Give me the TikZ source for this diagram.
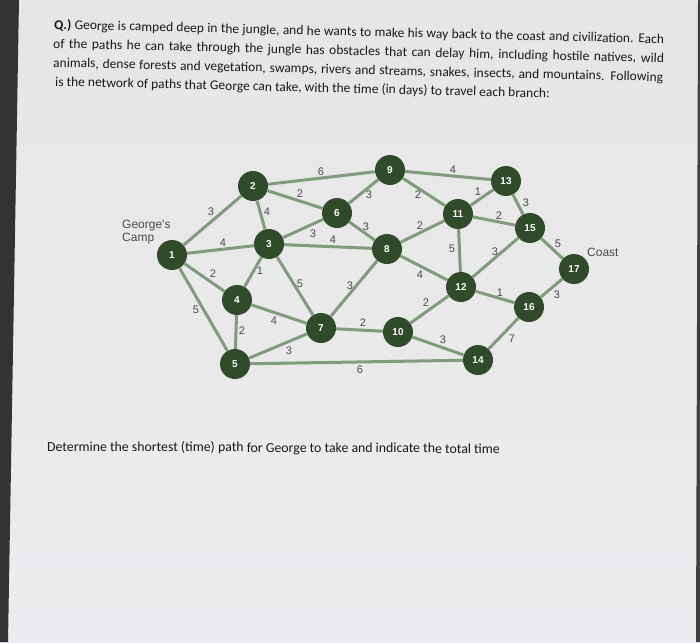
\documentclass[tikz,border=0pt]{standalone}
\usepackage{fontspec}
\setmainfont{Carlito}
\newfontfamily\graphfont{Liberation Sans}
\definecolor{paper}{HTML}{E5E7E4}
\definecolor{paperlow}{HTML}{EDEBEF}
\definecolor{junglegreen}{HTML}{2F4B29}
\definecolor{pathgreen}{HTML}{809C7C}
\definecolor{weightgray}{HTML}{4A4A4A}
\definecolor{ink}{HTML}{1A1A1A}
\tikzset{
	spot/.style={circle,fill=junglegreen,minimum size=30pt,inner sep=0pt,text=white,font=\graphfont\fontsize{10}{10}\selectfont\bfseries},
	path line/.style={draw=pathgreen,line width=3pt},
	weight/.style={text=weightgray,inner sep=0pt,font=\graphfont\fontsize{11}{11}\selectfont},
	place/.style={text=weightgray,inner sep=0pt,align=left,font=\graphfont\fontsize{12}{13}\selectfont},
	textline/.style={anchor=base west,inner sep=0pt,text=ink,font=\fontsize{13.5}{16}\selectfont}
}
\begin{document}
\begin{tikzpicture}[x=1pt,y=-1pt]
	\useasboundingbox (0,0) rectangle (700,642);
	\shade[top color=paper,bottom color=paperlow] (0,0) rectangle (700,642);
	\fill[black!80] (0,0) -- (19,0) -- (8,642) -- (0,642) -- cycle;
	\fill[black!75] (698,0) -- (700,0) -- (700,642) -- (696,642) -- cycle;

	% question text
	\node[textline,rotate=-1.37] (q1) at (54,29) {\makebox[610pt][s]{\textbf{Q.)} George is camped deep in the jungle, and he wants to make his way back to the coast and civilization. Each}};
	\node[textline,rotate=-1.37] (q2) at (53,48) {\makebox[611pt][s]{of the paths he can take through the jungle has obstacles that can delay him, including hostile natives, wild}};
	\node[textline,rotate=-1.37] (q3) at (53,67) {\makebox[610pt][s]{animals, dense forests and vegetation, swamps, rivers and streams, snakes, insects, and mountains. Following}};
	\node[textline,rotate=-1.37] (q4) at (55,86) {is the network of paths that George can take, with the time (in days) to travel each branch:};

	% the network
	\node[spot] (n1) at (172,255) {1};
	\node[spot] (n2) at (253,186) {2};
	\node[spot] (n3) at (269,244) {3};
	\node[spot] (n4) at (237,300) {4};
	\node[spot] (n5) at (235,364) {5};
	\node[spot] (n6) at (337,213) {6};
	\node[spot] (n7) at (321,328) {7};
	\node[spot] (n8) at (387,249) {8};
	\node[spot] (n9) at (390,170) {9};
	\node[spot] (n10) at (398,332) {10};
	\node[spot] (n11) at (458,214) {11};
	\node[spot] (n12) at (461,287) {12};
	\node[spot] (n13) at (506,181) {13};
	\node[spot] (n14) at (478,360) {14};
	\node[spot] (n15) at (530,228) {15};
	\node[spot] (n16) at (529,307) {16};
	\node[spot] (n17) at (574,269) {17};

	\draw[path line] (n1) -- (n2);
	\draw[path line] (n1) -- (n3);
	\draw[path line] (n1) -- (n4);
	\draw[path line] (n1) -- (n5);
	\draw[path line] (n2) -- (n3);
	\draw[path line] (n2) -- (n6);
	\draw[path line] (n2) -- (n9);
	\draw[path line] (n3) -- (n6);
	\draw[path line] (n3) -- (n8);
	\draw[path line] (n3) -- (n4);
	\draw[path line] (n3) -- (n7);
	\draw[path line] (n4) -- (n5);
	\draw[path line] (n4) -- (n7);
	\draw[path line] (n5) -- (n7);
	\draw[path line] (n5) -- (n14);
	\draw[path line] (n6) -- (n9);
	\draw[path line] (n6) -- (n8);
	\draw[path line] (n7) -- (n8);
	\draw[path line] (n7) -- (n10);
	\draw[path line] (n8) -- (n11);
	\draw[path line] (n8) -- (n12);
	\draw[path line] (n9) -- (n11);
	\draw[path line] (n9) -- (n13);
	\draw[path line] (n10) -- (n12);
	\draw[path line] (n10) -- (n14);
	\draw[path line] (n11) -- (n12);
	\draw[path line] (n11) -- (n13);
	\draw[path line] (n11) -- (n15);
	\draw[path line] (n12) -- (n15);
	\draw[path line] (n12) -- (n16);
	\draw[path line] (n13) -- (n15);
	\draw[path line] (n14) -- (n16);
	\draw[path line] (n15) -- (n17);
	\draw[path line] (n16) -- (n17);

	% times on the branches
	\node[weight] (w1-2) at (211,212) {3};
	\node[weight] (w1-3) at (223,243) {4};
	\node[weight] (w1-4) at (213,274) {2};
	\node[weight] (w1-5) at (196,310) {5};
	\node[weight] (w2-3) at (267,212) {4};
	\node[weight] (w2-6) at (300,194) {2};
	\node[weight] (w2-9) at (321,172) {6};
	\node[weight] (w3-6) at (313,234) {3};
	\node[weight] (w3-8) at (333,240) {4};
	\node[weight] (w3-4) at (260,271) {1};
	\node[weight] (w3-7) at (300,284) {5};
	\node[weight] (w4-5) at (242,331) {2};
	\node[weight] (w4-7) at (274,321) {4};
	\node[weight] (w5-7) at (289,351) {3};
	\node[weight] (w5-14) at (360,370) {6};
	\node[weight] (w6-9) at (369,195) {3};
	\node[weight] (w6-8) at (366,227) {3};
	\node[weight] (w7-8) at (350,286) {3};
	\node[weight] (w7-10) at (363,323) {2};
	\node[weight] (w8-11) at (420,226) {2};
	\node[weight] (w8-12) at (420,275) {4};
	\node[weight] (w9-11) at (418,195) {2};
	\node[weight] (w9-13) at (453,170) {4};
	\node[weight] (w10-12) at (426,303) {2};
	\node[weight] (w10-14) at (443,340) {3};
	\node[weight] (w11-12) at (452,249) {5};
	\node[weight] (w11-13) at (478,192) {1};
	\node[weight] (w11-15) at (499,216) {2};
	\node[weight] (w12-15) at (495,252) {3};
	\node[weight] (w12-16) at (500,293) {1};
	\node[weight] (w13-15) at (526,203) {3};
	\node[weight] (w14-16) at (512,339) {7};
	\node[weight] (w15-17) at (558,244) {5};
	\node[weight] (w16-17) at (557,295) {3};

	\node[place,anchor=west] (camp) at (122,232) {George's\\Camp};
	\node[place,anchor=west] (coast) at (587,252) {Coast};

	\node[textline,rotate=-0.3,font=\fontsize{13.8}{16}\selectfont] (ask) at (47,451) {Determine the shortest (time) path for George to take and indicate the total time};
\end{tikzpicture}
\end{document}
